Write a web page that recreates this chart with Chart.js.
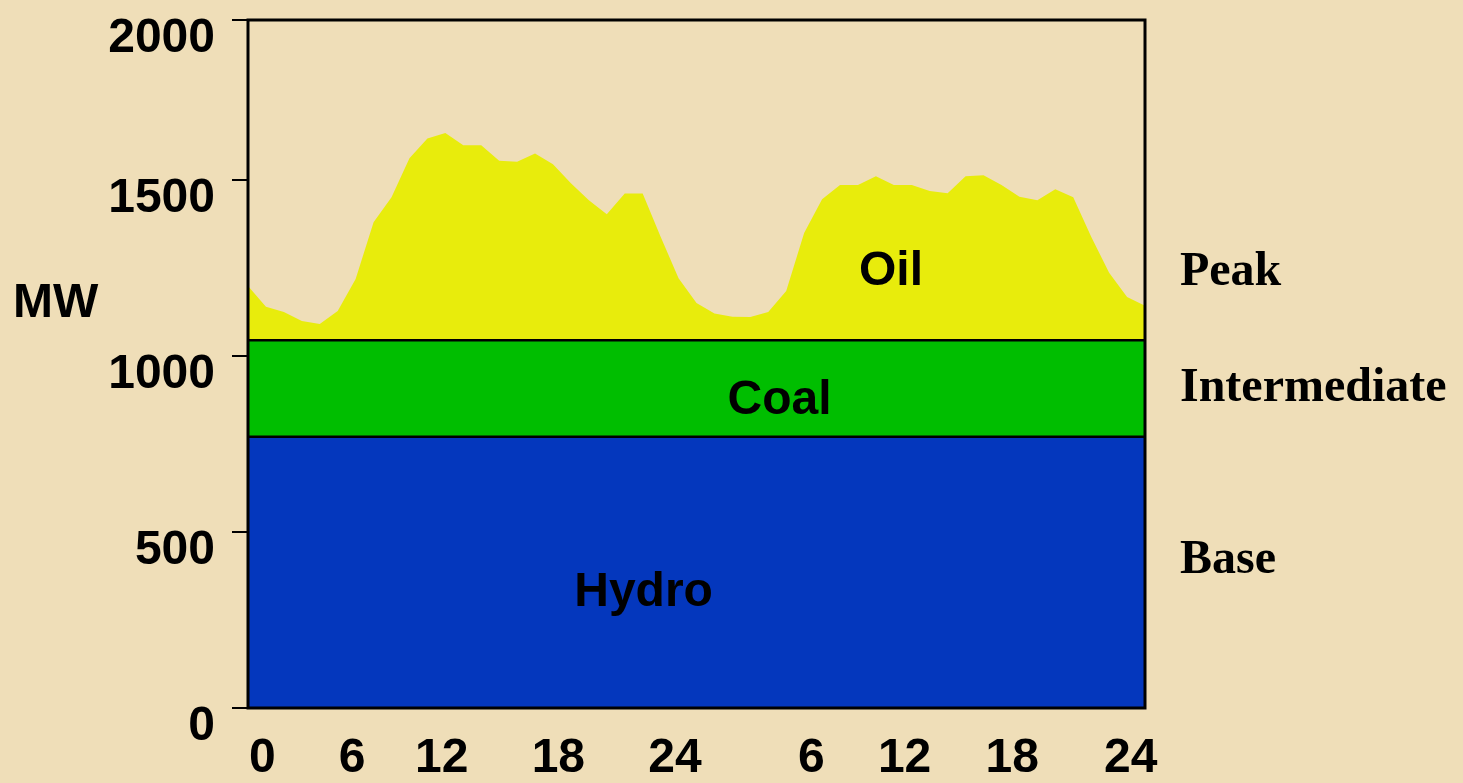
<!DOCTYPE html>
<html lang="en">
<head>
<meta charset="UTF-8">
<title>Daily load by generation type</title>
<script src="https://cdn.jsdelivr.net/npm/chart.js"></script>
<style>
  body {
    margin: 0;
    background: #efdeb8;
    overflow: hidden;
  }
  .wrap {
    width: 1463px;
    height: 783px;
    position: relative;
  }
</style>
</head>
<body>
<div class="wrap"><canvas id="loadChart"></canvas></div>

<script>
// two days of load, one point per step
const steps = Array.from({ length: 51 }, (_, i) => i);
const oilMW = [
  1199, 1140, 1125, 1100, 1091, 1128, 1219, 1380, 1451, 1562,
  1618, 1634, 1599, 1599, 1555, 1552, 1576, 1545, 1491, 1443,
  1403, 1462, 1462, 1339, 1221, 1151, 1121, 1112, 1111, 1125,
  1185, 1350, 1446, 1486, 1486, 1511, 1486, 1486, 1469, 1463,
  1511, 1514, 1486, 1453, 1443, 1474, 1451, 1339, 1237, 1168,
  1143
];
const hydroTopMW = 771;
const coalTopMW = 1045;

const yMax = 1955;
const yTickAt = [0, 500, 1000, 1500, 1955];
const yTickLabels = ['0', '500', '1000', '1500', '2000'];
const xTickAt = [0.8, 5.8, 10.8, 17.3, 23.8, 31.4, 36.6, 42.6, 49.2];
const xTickLabels = ['0', '6', '12', '18', '24', '6', '12', '18', '24'];

const unitLabel = { text: 'MW', x: -13.1, y: 1112 };
const areaLabels = [
  { text: 'Oil', x: 35.84, y: 1202 },
  { text: 'Coal', x: 29.63, y: 835 },
  { text: 'Hydro', x: 22.05, y: 290 }
];
const tierLabels = [
  { text: 'Peak', x: 51.95, y: 1202 },
  { text: 'Intermediate', x: 51.95, y: 873 },
  { text: 'Base', x: 51.95, y: 384 }
];

const SANS = '"Liberation Sans", Arial, sans-serif';
const SERIF = '"Liberation Serif", "Times New Roman", serif';

const flatLine = level => [
  { x: steps[0], y: level },
  { x: steps[steps.length - 1], y: level }
];

const annotate = {
  id: 'annotate',
  afterDatasetsDraw(chart) {
    const { ctx, chartArea: a } = chart;
    ctx.save();
    ctx.strokeStyle = '#000';
    ctx.lineWidth = 3;
    ctx.strokeRect(a.left, a.top, a.right - a.left, a.bottom - a.top);
    ctx.restore();
  },
  afterDraw(chart) {
    const { ctx, scales: { x, y } } = chart;
    ctx.save();
    ctx.fillStyle = '#000';
    ctx.textBaseline = 'alphabetic';
    ctx.font = 'bold 48px ' + SANS;
    ctx.textAlign = 'center';
    areaLabels.forEach(l => ctx.fillText(l.text, x.getPixelForValue(l.x), y.getPixelForValue(l.y)));
    ctx.textAlign = 'left';
    ctx.fillText(unitLabel.text, x.getPixelForValue(unitLabel.x), y.getPixelForValue(unitLabel.y));
    ctx.font = 'bold 48px ' + SERIF;
    tierLabels.forEach(l => ctx.fillText(l.text, x.getPixelForValue(l.x), y.getPixelForValue(l.y)));
    ctx.restore();
  }
};

new Chart(document.getElementById('loadChart'), {
  type: 'line',
  data: {
    labels: steps,
    datasets: [
      {
        label: 'Hydro',
        data: flatLine(hydroTopMW),
        borderColor: '#000',
        borderWidth: 2.5,
        backgroundColor: '#0437bd',
        fill: 'origin'
      },
      {
        label: 'Coal',
        data: flatLine(coalTopMW),
        borderColor: '#000',
        borderWidth: 2.5,
        backgroundColor: '#00be00',
        fill: { value: hydroTopMW }
      },
      {
        label: 'Oil',
        data: oilMW,
        borderColor: 'rgba(0,0,0,0)',
        borderWidth: 1,
        backgroundColor: '#e8ec0c',
        fill: { value: coalTopMW }
      }
    ]
  },
  options: {
    responsive: true,
    maintainAspectRatio: false,
    animation: false,
    layout: { padding: { top: 20, right: 318, left: 0, bottom: 0 } },
    elements: { point: { radius: 0 }, line: { tension: 0 } },
    plugins: {
      legend: { display: false },
      tooltip: { enabled: false }
    },
    scales: {
      x: {
        type: 'linear',
        min: 0,
        max: 50,
        afterBuildTicks: s => { s.ticks = xTickAt.map(v => ({ value: v })); },
        afterFit: s => { s.height = 75; s.paddingLeft = 0; s.paddingRight = 0; },
        grid: { display: false, drawTicks: false },
        border: { display: false },
        ticks: {
          autoSkip: false,
          maxRotation: 0,
          minRotation: 0,
          padding: 22,
          color: '#000',
          font: { family: SANS, size: 48, weight: 'bold' },
          callback: (v, i) => xTickLabels[i]
        }
      },
      y: {
        min: 0,
        max: yMax,
        afterBuildTicks: s => { s.ticks = yTickAt.map(v => ({ value: v })); },
        afterFit: s => { s.width = 248; s.paddingTop = 0; s.paddingBottom = 0; },
        grid: { drawOnChartArea: false, drawTicks: true, tickLength: 16, color: '#000', lineWidth: 2 },
        border: { display: false },
        ticks: {
          padding: 17,
          labelOffset: 19,
          color: '#000',
          font: { family: SANS, size: 48, weight: 'bold' },
          callback: (v, i) => yTickLabels[i]
        }
      }
    }
  },
  plugins: [annotate]
});
</script>
</body>
</html>
